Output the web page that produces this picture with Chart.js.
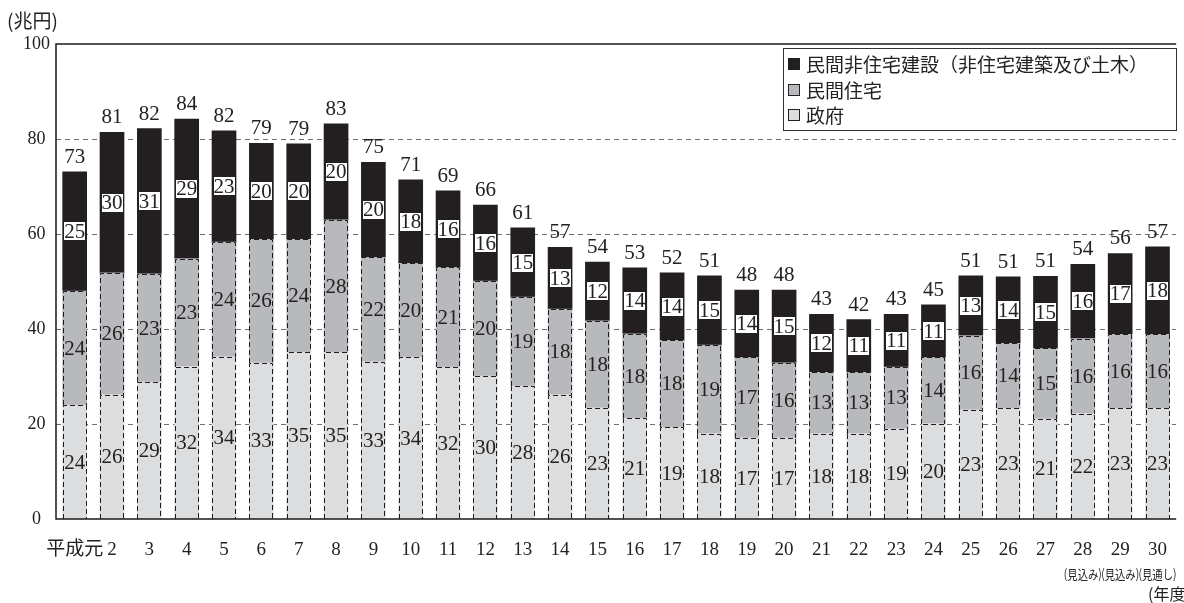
<!DOCTYPE html>
<html>
<head>
<meta charset="utf-8">
<script src="https://cdn.jsdelivr.net/npm/chart.js@4/dist/chart.umd.min.js"></script>
<style>
  html, body { margin: 0; padding: 0; background: #fff; overflow: hidden; }
  #wrap { width: 1184px; height: 603px; overflow: hidden; position: relative; }
  canvas { display: block; }
</style>
</head>
<body>
<div id="wrap"><canvas id="c" width="1187" height="603" style="width:1187px;height:603px"></canvas></div>
<script>
// 建設投資（名目）の推移　単位：兆円
const years = ['平成元', '2', '3', '4', '5', '6', '7', '8', '9', '10',
               '11', '12', '13', '14', '15', '16', '17', '18', '19', '20',
               '21', '22', '23', '24', '25', '26', '27', '28', '29', '30'];

const government = [24.0, 26.2, 28.8, 32.1, 34.2, 32.9, 35.1, 35.1, 33.1, 34.1,
                    32.0, 30.1, 28.0, 26.2, 23.4, 21.2, 19.3, 18.0, 17.1, 17.1,
                    18.0, 18.0, 19.0, 20.1, 23.0, 23.3, 21.1, 22.2, 23.3, 23.3];

const privateHousing = [24.0, 25.6, 22.8, 22.7, 24.1, 26.0, 23.8, 27.9, 22.0, 19.7,
                        21.0, 20.0, 18.7, 18.0, 18.3, 17.8, 18.3, 18.6, 16.9, 15.8,
                        12.9, 12.9, 13.0, 13.9, 15.6, 13.7, 14.8, 15.8, 15.6, 15.6];

const privateNonHousing = [25.1, 29.6, 30.6, 29.4, 23.4, 20.2, 20.1, 20.2, 20.0, 17.6,
                           16.1, 16.0, 14.6, 13.0, 12.4, 13.9, 14.2, 14.6, 14.2, 15.3,
                           12.2, 11.1, 11.1, 11.1, 12.6, 14.0, 15.2, 15.6, 17.0, 18.4];

// 最後の3年度に付く注記
const outlookNotes = ['(見込み)', '(見込み)', '(見通し)'];

const seriesNames = ['政府', '民間住宅', '民間非住宅建設（非住宅建築及び土木）'];
const yTicks = [0, 20, 40, 60, 80, 100];
const unitLabel = '(兆円)';
const fiscalYearLabel = '(年度)';

const SERIF = "'Liberation Serif', 'DejaVu Serif', 'Noto Sans CJK JP', serif";
const JP = "'Noto Sans CJK JP', sans-serif";
const COLORS = ['#dcdddf', '#b8b9bc', '#231f20'];

const decor = {
  id: 'decor',
  beforeDatasetsDraw(chart) {
    const { ctx, chartArea: a, scales: { y } } = chart;
    ctx.save();
    ctx.strokeStyle = '#707070';
    ctx.lineWidth = 1;
    ctx.setLineDash([5, 4]);
    yTicks.forEach(v => {
      if (v === yTicks[0] || v === yTicks[yTicks.length - 1]) return;
      const py = Math.round(y.getPixelForValue(v)) + 0.5;
      ctx.beginPath();
      ctx.moveTo(a.left, py);
      ctx.lineTo(a.right, py);
      ctx.stroke();
    });
    ctx.restore();
  },
  afterDatasetsDraw(chart) {
    const { ctx, chartArea: a, scales: { x, y } } = chart;

    // dashed outlines on the government and housing segments
    ctx.save();
    ctx.strokeStyle = '#1e1e1e';
    ctx.lineWidth = 1;
    ctx.setLineDash([5, 3]);
    [0, 1].forEach(di => {
      chart.getDatasetMeta(di).data.forEach(el => {
        const p = el.getProps(['x', 'y', 'base', 'width'], true);
        const l = Math.round(p.x - p.width / 2) + 0.5;
        const r = Math.round(p.x + p.width / 2) - 0.5;
        const t = Math.round(p.y) + 0.5;
        const b = Math.round(p.base);
        ctx.beginPath();
        ctx.moveTo(l, b); ctx.lineTo(l, t); ctx.lineTo(r, t); ctx.lineTo(r, b);
        ctx.stroke();
      });
    });
    ctx.restore();

    // value labels inside segments
    ctx.save();
    ctx.font = '21px ' + SERIF;
    ctx.textAlign = 'center';
    ctx.textBaseline = 'middle';
    chart.data.datasets.forEach((ds, di) => {
      chart.getDatasetMeta(di).data.forEach((el, i) => {
        const p = el.getProps(['x', 'y', 'base', 'width'], true);
        const txt = String(Math.round(ds.data[i]));
        const cy = (p.y + p.base) / 2;
        if (di === 2) {
          const w = Math.min(ctx.measureText(txt).width + 1, p.width - 3);
          ctx.fillStyle = '#ffffff';
          ctx.fillRect(Math.round(p.x - w / 2), Math.round(cy - 9), Math.round(w), 18);
        }
        ctx.fillStyle = '#222';
        ctx.fillText(txt, p.x, cy + 1);
      });
    });

    // totals above each bar
    ctx.textBaseline = 'alphabetic';
    years.forEach((_, i) => {
      const total = government[i] + privateHousing[i] + privateNonHousing[i];
      const px = x.getPixelForValue(i);
      const py = y.getPixelForValue(total);
      ctx.fillStyle = '#222';
      ctx.fillText(String(Math.round(total)), px, py - 9);
    });
    ctx.restore();

    // plot frame: top, left and bottom lines
    ctx.save();
    ctx.strokeStyle = '#1a1a1a';
    ctx.lineWidth = 1.5;
    ctx.setLineDash([]);
    const top = y.getPixelForValue(yTicks[yTicks.length - 1]);
    const bottom = y.getPixelForValue(yTicks[0]);
    ctx.beginPath();
    ctx.moveTo(a.right, top); ctx.lineTo(a.left, top); ctx.lineTo(a.left, bottom); ctx.lineTo(a.right, bottom);
    ctx.stroke();
    ctx.restore();
  },
  afterDraw(chart) {
    const { ctx, scales: { x } } = chart;
    ctx.save();

    // unit label
    ctx.fillStyle = '#222';
    ctx.font = '19px ' + JP;
    ctx.textAlign = 'left';
    ctx.textBaseline = 'middle';
    ctx.fillText(unitLabel, 7, 21);

    // legend box
    const lx = 783, ly = 48, lw = 393, lh = 82;
    ctx.fillStyle = '#ffffff';
    ctx.fillRect(lx, ly, lw, lh);
    ctx.strokeStyle = '#333';
    ctx.lineWidth = 1;
    ctx.strokeRect(lx + 0.5, ly + 0.5, lw, lh);
    const order = [2, 1, 0];
    const rowY = [64, 90, 115];
    ctx.font = '19px ' + JP;
    order.forEach((di, k) => {
      const cy = rowY[k];
      ctx.fillStyle = chart.data.datasets[di].backgroundColor;
      ctx.fillRect(788, cy - 6, 12, 12);
      ctx.strokeStyle = '#222';
      ctx.strokeRect(788.5, cy - 5.5, 11, 11);
      ctx.fillStyle = '#222';
      ctx.fillText(chart.data.datasets[di].label, 806, cy + 1);
    });

    // notes under the last three years
    ctx.font = '13px ' + JP;
    ctx.textAlign = 'center';
    const n = outlookNotes.length;
    outlookNotes.forEach((t, k) => {
      const idx = years.length - n + k;
      ctx.fillText(t, x.getPixelForValue(idx), 574, 38);
    });

    // fiscal-year caption
    ctx.font = '16px ' + JP;
    ctx.textAlign = 'left';
    ctx.fillText(fiscalYearLabel, 1148, 594);
    ctx.restore();
  }
};

new Chart(document.getElementById('c'), {
  type: 'bar',
  data: {
    labels: years,
    datasets: [
      { label: seriesNames[0], data: government, backgroundColor: COLORS[0] },
      { label: seriesNames[1], data: privateHousing, backgroundColor: COLORS[1] },
      { label: seriesNames[2], data: privateNonHousing, backgroundColor: COLORS[2] }
    ]
  },
  options: {
    responsive: false,
    animation: false,
    devicePixelRatio: 1,
    layout: { padding: { top: 44, left: 0, right: 0, bottom: 0 } },
    datasets: { bar: { barThickness: 24, borderWidth: 0 } },
    plugins: { legend: { display: false }, tooltip: { enabled: false } },
    scales: {
      x: {
        stacked: true,
        grid: { display: false, drawTicks: false },
        border: { display: false },
        ticks: {
          font: { family: SERIF, size: 19 },
          color: '#222',
          padding: 20,
          maxRotation: 0,
          autoSkip: false
        },
        afterFit(s) { s.height = 84; }
      },
      y: {
        stacked: true,
        min: 0,
        max: 100,
        grid: { display: false, drawTicks: false },
        border: { display: false },
        ticks: {
          stepSize: 20,
          font: { family: SERIF, size: 18 },
          color: '#222',
          padding: 6,
          crossAlign: 'center'
        },
        afterFit(s) { s.width = 56; }
      }
    }
  },
  plugins: [decor]
});
</script>
</body>
</html>
